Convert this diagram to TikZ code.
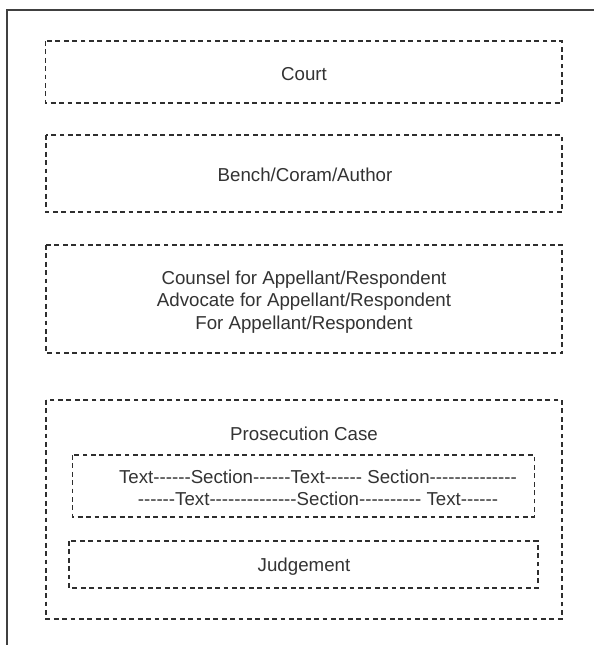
\documentclass[tikz,border=0pt]{standalone}
\usepackage{fontspec}
\setmainfont{Liberation Sans}[Ligatures=TeXOff]
\begin{document}
\begin{tikzpicture}[x=1pt,y=-1pt,
  frameline/.style={draw=black!75,line width=2pt},
  dbox/.style={draw=black!82,line width=1.5pt,dash pattern=on 4.8pt off 3.6pt},
  label/.style={inner sep=0pt,anchor=base,text=black!80,
    font=\fontsize{18.7}{22.4}\selectfont,align=center}]
  \useasboundingbox (0,0) rectangle (594,645);
  \fill[white] (0,0) rectangle (594,645);

  % page frame, open to the right and bottom
  \draw[frameline] (7,650) -- (7,10) -- (600,10);

  % section boxes
  \draw[dbox] (45.5,41) rectangle (562,103);
  \draw[dbox] (46,135) rectangle (562,212);
  \draw[dbox] (46,245) rectangle (562,353);
  \draw[dbox] (46,400) rectangle (562,619);
  \draw[dbox] (72.5,455) rectangle (534.5,517);
  \draw[dbox] (69,541) rectangle (538,588);

  % labels (a multi-line label sits on the baseline of its last line)
  \node[label] (court) at (304,80) {Court};
  \node[label] (bench) at (305,181.5) {Bench/Coram/Author};
  \node[label] (counsel) at (304,329) {Counsel for Appellant/Respondent\\
    Advocate for Appellant/Respondent\\For Appellant/Respondent};
  \node[label] (prosecution) at (304,440) {Prosecution Case};
  \node[label] (body) at (318,505.5) {Text------Section------Text------ Section--------------\\
    ------Text--------------Section---------- Text------};
  \node[label] (judgement) at (304,571.5) {Judgement};
\end{tikzpicture}
\end{document}
